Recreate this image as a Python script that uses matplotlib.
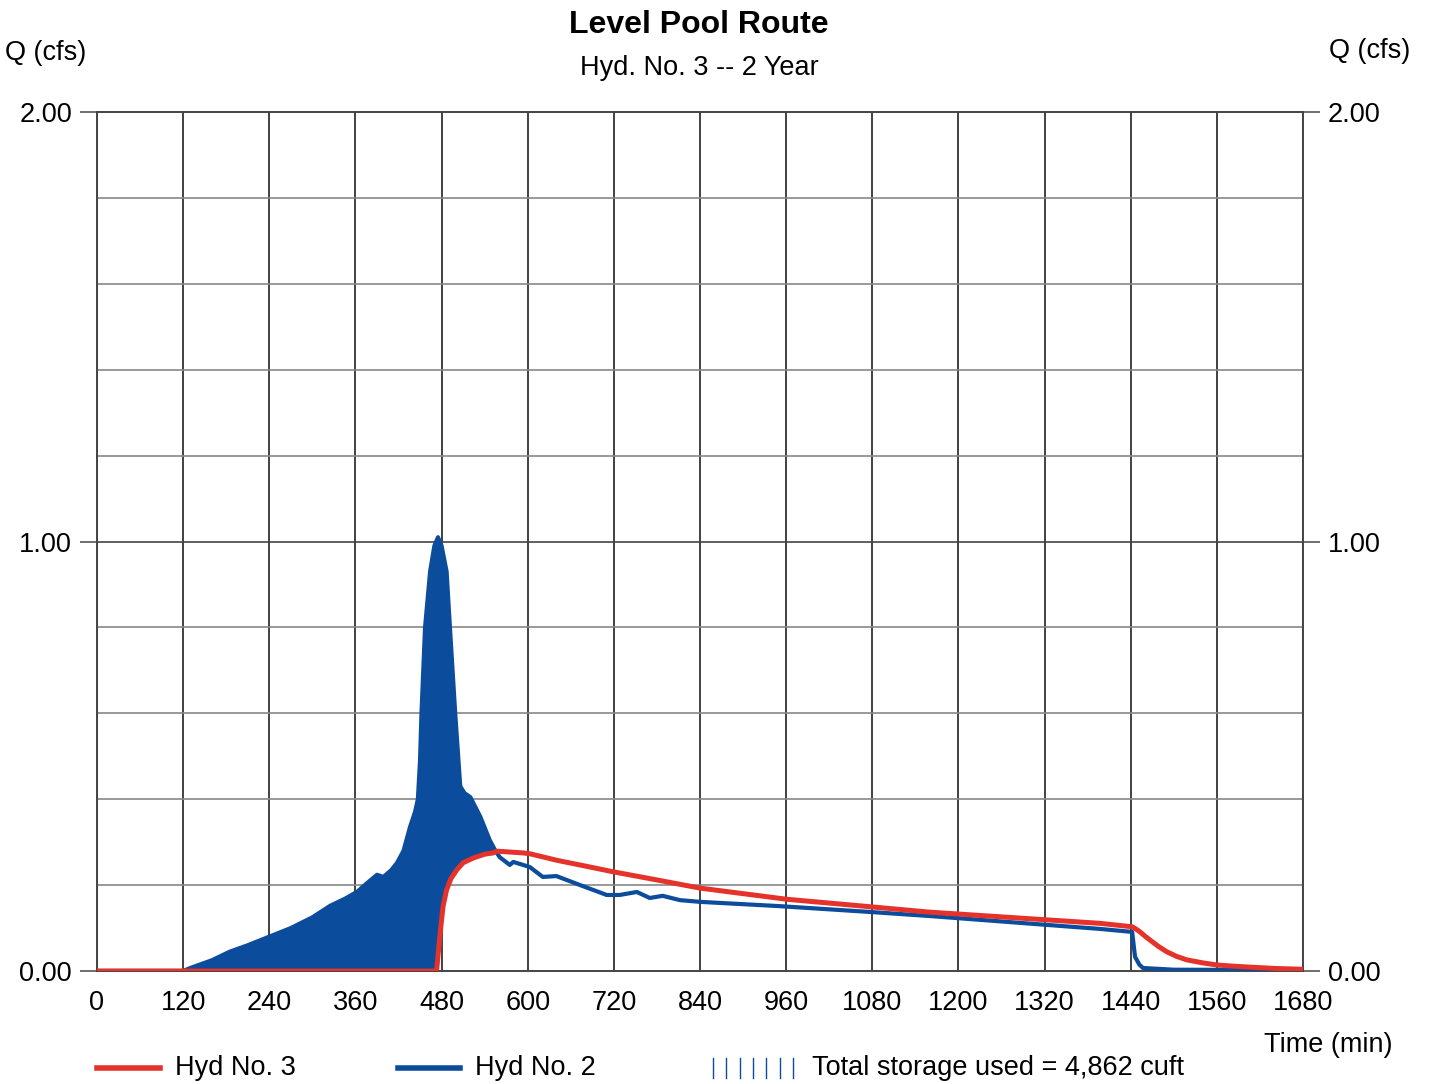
import numpy as np
import matplotlib
matplotlib.use("Agg")
import matplotlib.pyplot as plt
from matplotlib.lines import Line2D

plt.rcParams["font.family"] = ["Liberation Sans", "DejaVu Sans"]

# Hyd No. 2 (inflow) - minutes / cfs
hyd2_t = [0, 120, 130, 160, 185, 210, 240, 270, 300, 325, 345, 362, 380, 390,
          399, 410, 418, 427, 436, 443, 447, 450, 452, 457, 464, 470, 475, 480,
          487, 492, 499, 506, 512, 520, 534, 547, 555, 561, 575, 580, 603, 621,
          640, 673, 710, 728, 752, 770, 788, 812, 840, 951, 1081, 1160, 1397,
          1442, 1446, 1452, 1457, 1500, 1680]
hyd2_q = [0, 0, 0.007, 0.025, 0.045, 0.06, 0.08, 0.10, 0.125, 0.152, 0.168, 0.184,
          0.21, 0.224, 0.219, 0.235, 0.252, 0.28, 0.335, 0.37, 0.40, 0.49, 0.60,
          0.80, 0.93, 0.99, 1.01, 0.99, 0.93, 0.79, 0.60, 0.43, 0.414, 0.405,
          0.359, 0.305, 0.28, 0.265, 0.247, 0.254, 0.242, 0.219, 0.221, 0.20,
          0.177, 0.177, 0.184, 0.170, 0.175, 0.165, 0.161, 0.151, 0.137, 0.128,
          0.098, 0.091, 0.033, 0.015, 0.007, 0.003, 0.002]

# Hyd No. 3 (routed outflow)
hyd3_t = [0, 473, 478, 482, 487, 493, 501, 510, 524, 540, 552, 557, 593, 603,
          640, 687, 719, 780, 840, 961, 1081, 1160, 1397, 1442, 1448, 1453, 1460,
          1467, 1478, 1490, 1504, 1518, 1540, 1560, 1585, 1606, 1640, 1680]
hyd3_q = [0, 0, 0.088, 0.15, 0.189, 0.215, 0.235, 0.252, 0.263, 0.272, 0.275,
          0.279, 0.275, 0.273, 0.258, 0.242, 0.231, 0.212, 0.193, 0.167, 0.149,
          0.137, 0.111, 0.103, 0.097, 0.091, 0.081, 0.072, 0.058, 0.045, 0.034,
          0.026, 0.019, 0.014, 0.011, 0.009, 0.006, 0.004]

x_ticks = list(range(0, 1681, 120))
y_ticks = [0.0, 1.0, 2.0]
storage_label = "Total storage used = 4,862 cuft"

RED = "#e5322b"
BLUE = "#0b4c9c"

fig = plt.figure(figsize=(14.3, 10.84), dpi=100)
ax = fig.add_axes([97 / 1430, 1 - 971 / 1084, 1206 / 1430, 859 / 1084])

# storage fill between inflow and outflow
tt = np.linspace(0, 1680, 6721)
q2 = np.interp(tt, hyd2_t, hyd2_q)
q3 = np.interp(tt, hyd3_t, hyd3_q)
ax.fill_between(tt, q3, q2, where=q2 > q3, color=BLUE, linewidth=0, zorder=2)

ax.plot(hyd2_t, hyd2_q, color=BLUE, lw=3, zorder=3, solid_joinstyle="round")
ax.plot(hyd3_t, hyd3_q, color=RED, lw=3.6, zorder=4, solid_joinstyle="round")

ax.set_xlim(0, 1680)
ax.set_ylim(0, 2.0)
for x in x_ticks:
    ax.axvline(x, color="#333333", lw=1.3, zorder=1)
for y in np.arange(0.2, 2.0, 0.2):
    ax.axhline(y, color="#888888" if abs(y - 1.0) > 1e-6 else "#444444",
               lw=1.2, zorder=1)
for s in ax.spines.values():
    s.set_color("#444444")
    s.set_linewidth(1.4)

ax.set_xticks(x_ticks)
ax.set_xticklabels([str(v) for v in x_ticks], fontsize=19.5)
ax.tick_params(axis="x", length=0, pad=14)
ax.set_yticks(y_ticks)
ax.set_yticklabels(["%.2f" % v for v in y_ticks], fontsize=19.5)
ax.tick_params(axis="y", length=12, width=1.2, color="#555555", pad=6,
               right=True, labelright=True)

fig.text(0.489, 0.977, "Level Pool Route", ha="center", va="center",
         fontsize=23, fontweight="bold")
fig.text(0.489, 0.937, "Hyd. No. 3 -- 2 Year", ha="center", va="center",
         fontsize=19.5)
fig.text(5 / 1430, 1 - 53 / 1084, "Q (cfs)", ha="left", va="center", fontsize=19.5)
fig.text(1410 / 1430, 1 - 51 / 1084, "Q (cfs)", ha="right", va="center",
         fontsize=19.5)
fig.text(1392 / 1430, 1 - 1045 / 1084, "Time (min)", ha="right", va="center",
         fontsize=19.5)

# legend along the bottom
ly = 1 - 1068 / 1084
fig.add_artist(Line2D([97 / 1430, 160 / 1430], [ly, ly], color=RED, lw=4))
fig.text(175 / 1430, ly, "Hyd No. 3", ha="left", va="center", fontsize=19.5)
fig.add_artist(Line2D([398 / 1430, 460 / 1430], [ly, ly], color=BLUE, lw=4))
fig.text(475 / 1430, ly, "Hyd No. 2", ha="left", va="center", fontsize=19.5)
for i in range(7):
    hx = (713 + i * 13.3) / 1430
    fig.add_artist(Line2D([hx, hx], [ly - 0.009, ly + 0.009], color=BLUE, lw=1))
fig.text(812 / 1430, ly, storage_label, ha="left", va="center", fontsize=19.5)

fig.savefig("out.png", dpi=100)
